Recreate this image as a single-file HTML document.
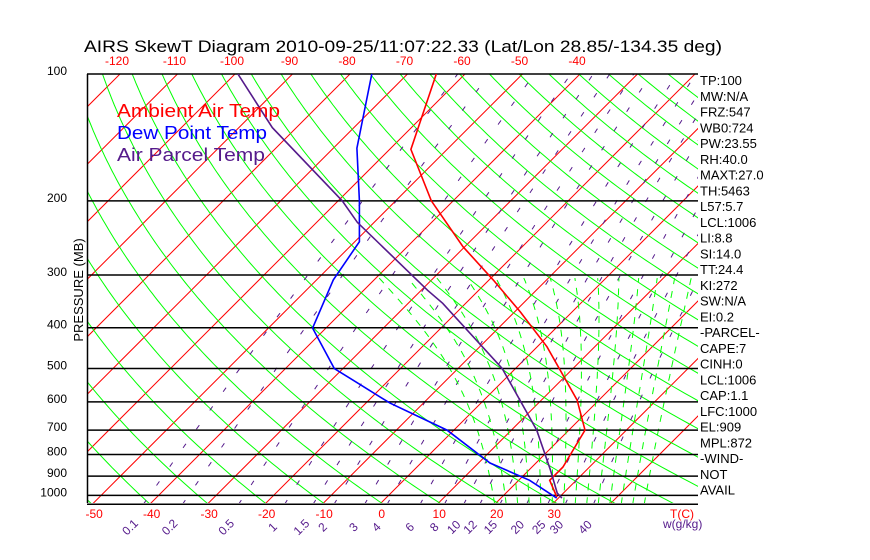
<!DOCTYPE html>
<html><head><meta charset="utf-8"><style>
html,body{margin:0;padding:0;background:#fff;}
svg{display:block;font-family:"Liberation Sans",sans-serif;}
</style></head><body>
<svg id="c" width="870" height="560" viewBox="0 0 870 560" xmlns="http://www.w3.org/2000/svg">
<defs><clipPath id="plot"><rect x="87" y="74" width="611" height="429"/></clipPath></defs>
<text x="84" y="52" font-size="17" textLength="638" lengthAdjust="spacingAndGlyphs" fill="#000">AIRS SkewT Diagram 2010-09-25/11:07:22.33 (Lat/Lon 28.85/-134.35 deg)</text>
<g id="bg" clip-path="url(#plot)"></g>
<g id="hl"></g>
<g id="prof" clip-path="url(#plot)"></g>
<g id="lab"></g>
<text x="117" y="117" font-size="18" fill="#ff0000" textLength="163" lengthAdjust="spacingAndGlyphs">Ambient Air Temp</text>
<text x="117" y="139" font-size="18" fill="#0000ff" textLength="150" lengthAdjust="spacingAndGlyphs">Dew Point Temp</text>
<text x="117" y="161" font-size="18" fill="#551a8b" textLength="148" lengthAdjust="spacingAndGlyphs">Air Parcel Temp</text>
<text transform="translate(83,290) rotate(-90)" text-anchor="middle" font-size="13" fill="#000">PRESSURE (MB)</text>
<g id="stats"></g>
</svg>
<script>
const pressureTicks=[100,200,300,400,500,600,700,800,900,1000];
const bottomTempTicks=[-50,-40,-30,-20,-10,0,10,20,30];
const topTempTicks=[-120,-110,-100,-90,-80,-70,-60,-50,-40];
const mixLabels=["0.1","0.2","0.5","1","1.5","2","3","4","6","8","10","12","15","20","25","30","40"];
const mixValues=[0.1,0.2,0.5,1,1.5,2,3,4,6,8,10,12,15,20,25,30,40];
const tempP=[100,151,200,257,308,367,444,594,700,857,921,982,1010];
const tempT=[-65,-56.3,-43.8,-30.3,-19.3,-9,1.7,16.2,22.8,25.4,25.4,28.3,29.6];
const dewP=[100,150,200,250,308,401,500,604,700,838,921,1015];
const dewT=[-76.2,-65.9,-56.3,-49.2,-47.1,-42.3,-31.5,-15.8,-1.2,12,21.9,29.7];
const parP=[100,134,200,225,326,350,500,700,870,987,1015];
const parT=[-99.5,-84.2,-59.3,-52.9,-28.9,-24,-2.3,14.4,23.7,28.9,30.6];
const statLines=["TP:100","MW:N/A","FRZ:547","WB0:724","PW:23.55","RH:40.0","MAXT:27.0","TH:5463","L57:5.7","LCL:1006"," LI:8.8","SI:14.0","TT:24.4","KI:272","SW:N/A"," EI:0.2","-PARCEL-","CAPE:7","CINH:0","LCL:1006","CAP:1.1","LFC:1000","EL:909","MPL:872","-WIND-","  NOT","AVAIL"];

const NS="http://www.w3.org/2000/svg";
function yP(p){return 74+183*Math.log(p/100);}
function pY(y){return 100*Math.exp((y-74)/183);}
function xT(t,p){return 381+5.75*t+(503-yP(p));}
function mk(tag,attrs,parent){const e=document.createElementNS(NS,tag);for(const k in attrs)e.setAttribute(k,attrs[k]);parent.appendChild(e);return e;}
function poly(pts,stroke,w,dash,parent,name){
  const e=mk('polyline',{points:pts.map(q=>q[0].toFixed(1)+','+q[1].toFixed(1)).join(' '),fill:'none',stroke:stroke,'stroke-width':w},parent);
  if(dash)e.setAttribute('stroke-dasharray',dash);
  
  
  return e;}
const bg=document.getElementById('bg'),hl=document.getElementById('hl'),prof=document.getElementById('prof'),lab=document.getElementById('lab'),stats=document.getElementById('stats');
const levels=[];for(let p=1050;p>=100;p*=0.98)levels.push(p);levels.push(100);
for(let t=-180;t<=40;t+=10){poly([[xT(t,1050),yP(1050)],[xT(t,100),yP(100)]],'#ff0000',1,null,bg,'isotherm');}
for(let th=190;th<=560;th+=10){poly(levels.map(p=>[xT(th*Math.pow(p/1000,0.286)-273.15,p),yP(p)]),'#00ff00',1,null,bg,'dry-adiabat');}
function tdOf(w,p){const e=w*p/(622+w);const l=Math.log(e/6.112);return 243.5*l/(17.67-l);}
mixValues.forEach(w=>{poly(levels.map(p=>[xT(tdOf(w,p),p),yP(p)]),'#551a8b',1,'5 18',bg,'mixing-ratio-line');});
function es(t){return 6.112*Math.exp(17.67*t/(t+243.5));}
for(let t0=20;t0<=46;t0+=2){
  let T=t0+273.15,p=1050;const pts=[];
  while(p>300){pts.push([xT(T-273.15,p),yP(p)]);
    const rs=0.622*es(T-273.15)/(p-es(T-273.15));
    const dTdp=(287*T+2.5e6*rs)/(p*(1004+2.5e6*2.5e6*rs*0.622/(287*T*T)));
    const dp=-5;T+=dTdp*dp;p+=dp;}
  poly(pts,'#00ff00',1,'7 7',bg,'moist-adiabat');}
mk('line',{x1:87.5,y1:74,x2:87.5,y2:503,stroke:'#000','stroke-width':1.5,},hl);
[100].concat(pressureTicks.slice(1),[1050]).forEach(p=>{const l=mk('line',{x1:87,y1:yP(p),x2:698,y2:yP(p),stroke:'#000','stroke-width':1.5},hl);
  
  });
pressureTicks.forEach(p=>{const t=mk('text',{x:67,y:yP(p)+1,'text-anchor':'end','font-size':12,fill:'#000'},lab);t.textContent=p;
  
  });
bottomTempTicks.forEach(v=>{const t=mk('text',{x:xT(v,1050)+2,y:518,'text-anchor':'middle','font-size':12,fill:'#ff0000'},lab);t.textContent=v;
  
  });
const tc=mk('text',{x:682,y:518,'text-anchor':'middle','font-size':12,fill:'#ff0000'},lab);tc.textContent='T(C)';


topTempTicks.forEach(v=>{const t=mk('text',{x:xT(v,100)-3,y:65,'text-anchor':'middle','font-size':12,fill:'#ff0000'},lab);t.textContent=v;
  
  });
mixValues.forEach((w,i)=>{const pl=pY(522);const x=xT(tdOf(w,pl),pl);
  const t=mk('text',{transform:'translate('+(x+2).toFixed(1)+',530) rotate(-45)','text-anchor':'middle','font-size':12,fill:'#551a8b'},lab);t.textContent=mixLabels[i];
  
  });
const wl=mk('text',{x:663,y:528,'font-size':12,fill:'#551a8b'},lab);wl.textContent='w(g/kg)';


poly(tempP.map((p,i)=>[xT(tempT[i],p),yP(p)]),'#ff0000',1.6,null,prof,'ambient-temp-line');
poly(dewP.map((p,i)=>[xT(dewT[i],p),yP(p)]),'#0000ff',1.6,null,prof,'dew-point-line');
poly(parP.map((p,i)=>[xT(parT[i],p),yP(p)]),'#551a8b',1.6,null,prof,'parcel-temp-line');
statLines.forEach((s,i)=>{const t=mk('text',{x:700,y:85+i*15.75,'font-size':13,fill:'#000','xml:space':'preserve'},stats);t.textContent=s;
  
  });
</script>
</body></html>
